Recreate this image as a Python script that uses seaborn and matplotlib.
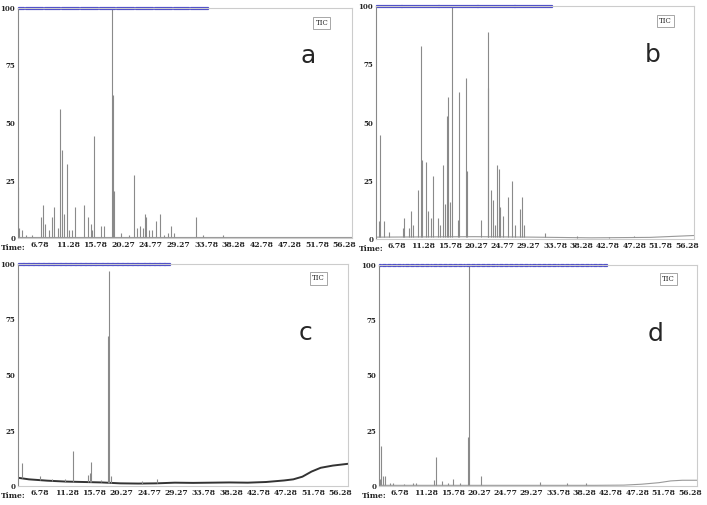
import numpy as np
import pandas as pd
import matplotlib
matplotlib.use("Agg")
import matplotlib.pyplot as plt
import seaborn as sns

sns.set_style("white")
plt.rcParams['font.family'] = ['DejaVu Serif']

x_ticks = [6.78, 11.28, 15.78, 20.27, 24.77, 29.27, 33.78, 38.28, 42.78, 47.28, 51.78, 56.28]
y_ticks = [0, 25, 50, 75, 100]

a_t = [3.2, 3.4, 3.8, 4.5, 5.5, 7.0, 7.2, 7.6, 8.3, 8.7, 9.1, 9.7, 10.1, 10.4, 10.6, 11.2, 11.5, 12.0, 12.4, 14.0, 14.6, 15.0, 15.3, 15.6, 16.7, 17.2, 18.5, 18.7, 18.8, 19.9, 21.3, 22.0, 22.6, 23.0, 23.6, 23.8, 24.0, 24.5, 25.0, 25.6, 26.3, 27.0, 27.6, 28.1, 28.5, 32.1, 33.3, 36.6]
a_h = [22, 4, 3, 1, 1, 9, 14, 6, 3, 9, 13, 4, 56, 38, 10, 32, 3, 3, 13, 14, 9, 6, 3, 44, 5, 5, 100, 62, 20, 2, 1, 27, 4, 5, 4, 10, 9, 3, 3, 7, 10, 1, 2, 5, 2, 9, 1, 1]

b_t = [3.7, 3.96, 4.5, 5.5, 7.8, 7.9, 8.8, 9.1, 9.6, 10.4, 10.8, 11.0, 11.7, 12.1, 12.6, 13.0, 13.8, 14.2, 14.7, 14.9, 15.4, 15.5, 15.9, 16.1, 17.2, 17.4, 18.6, 18.7, 21.1, 22.3, 22.4, 22.8, 23.1, 23.5, 23.9, 24.2, 24.4, 24.9, 25.8, 26.5, 27.0, 27.8, 28.2, 28.5, 32.1, 37.5, 43.0, 47.3]
b_h = [7, 44, 7, 2, 4, 8, 4, 11, 5, 20, 82, 33, 32, 11, 8, 26, 8, 5, 31, 14, 52, 60, 15, 100, 7, 62, 68, 28, 7, 88, 64, 20, 16, 5, 31, 29, 13, 9, 17, 24, 5, 12, 17, 5, 2, 0.5, 0.5, 0.5]

c_t = [3.8, 6.8, 8.8, 11.0, 12.3, 14.8, 15.0, 15.2, 16.9, 18.0, 18.2, 18.5, 23.6, 26.1]
c_h = [7, 2, 1, 1, 14, 3, 4, 9, 1, 66, 97, 3, 1, 2]
c_base_t = [3.2, 5.0, 8.0, 11.0, 14.0, 17.0, 20.0, 23.0, 26.0, 29.0, 32.0, 35.0, 38.0, 41.0, 44.0, 47.0, 48.5, 50.0, 51.5, 53.0, 55.0, 57.5]
c_base_h = [3.7, 3.0, 2.4, 2.0, 1.8, 1.6, 1.2, 1.1, 1.2, 1.5, 1.4, 1.5, 1.6, 1.5, 1.8, 2.5, 3.0, 4.2, 6.5, 8.2, 9.2, 10.0]

d_t = [3.3, 3.6, 3.9, 4.2, 5.0, 5.6, 7.5, 9.0, 9.6, 12.6, 13.0, 14.0, 15.0, 15.8, 17.0, 18.4, 18.6, 20.7, 30.7, 35.3, 38.5]
d_h = [3, 18, 4, 4, 1, 1, 0.5, 1, 1, 2.5, 13, 2, 1, 3, 1, 22, 100, 4, 1.5, 1, 1]
d_base_t = [3.2, 20.0, 40.0, 45.0, 48.0, 51.0, 53.0, 55.0, 57.5]
d_base_h = [0.3, 0.3, 0.3, 0.4, 0.8, 1.5, 2.3, 2.6, 2.6]

a_base_t = [3.2, 57.5]; a_base_h = [0.3, 0.3]
b_base_t = [3.2, 20.0, 30.0, 40.0, 50.0, 57.5]; b_base_h = [0.8, 1.0, 0.8, 0.5, 0.7, 1.5]

panels = [
    ("a", a_t, a_h, a_base_t, a_base_h, 34.0, [18, 8, 352, 238]),
    ("b", b_t, b_h, b_base_t, b_base_h, 33.0, [376, 6, 694, 239]),
    ("c", c_t, c_h, c_base_t, c_base_h, 28.0, [18, 264, 348, 486]),
    ("d", d_t, d_h, d_base_t, d_base_h, 42.0, [379, 265, 697, 486]),
]

W, H = 707, 505
fig = plt.figure(figsize=(W / 100, H / 100), dpi=100)
for name, pt, ph, bt, bh, blue_end, (l, t, r, b) in panels:
    ax = fig.add_axes([l / W, 1 - b / H, (r - l) / W, (b - t) / H])
    base = pd.DataFrame({"t": bt, "h": bh})
    sns.lineplot(data=base, x="t", y="h", ax=ax, color="#333333" if name == "c" else "#999999",
                 lw=1.4 if name == "c" else 0.8)
    y0 = np.interp(pt, bt, bh)
    ax.vlines(pt, y0, np.array(ph) + y0 * (np.array(ph) < 90), color="#8a8a8a", lw=0.8)
    ax.set_xlim(3.2, 57.5)
    ax.set_ylim(0, 100)
    ax.set_xticks(x_ticks)
    ax.set_xticklabels([f"{v:.2f}" for v in x_ticks], fontsize=5.5, fontweight="bold")
    ax.set_yticks(y_ticks)
    ax.set_yticklabels([str(v) for v in y_ticks], fontsize=5, fontweight="bold")
    ax.tick_params(length=0, pad=2)
    ax.set_xlabel(""); ax.set_ylabel("")
    for s in ax.spines.values():
        s.set_color("#cccccc"); s.set_linewidth(0.8)
    ax.spines["left"].set_color("#888888")
    fig.text((l - 17) / W, 1 - (b + 6) / H, "Time:", fontsize=5.5, fontweight="bold",
             ha="left", va="top")
    ax.plot(np.linspace(3.4, blue_end, 90), [100] * 90, ls="none", marker="s", ms=1.3,
            color="#4b4bc8", clip_on=False)
    ax.text(0.91, 0.935, "TIC", transform=ax.transAxes, fontsize=5, ha="center", va="center",
            bbox=dict(boxstyle="square,pad=0.3", fc="white", ec="#999999", lw=0.6))
    ax.text(0.87, 0.79 if name in "ab" else 0.69, name, transform=ax.transAxes, fontsize=18,
            family="DejaVu Sans", ha="center", va="center")

fig.savefig("out.png", dpi=100)
